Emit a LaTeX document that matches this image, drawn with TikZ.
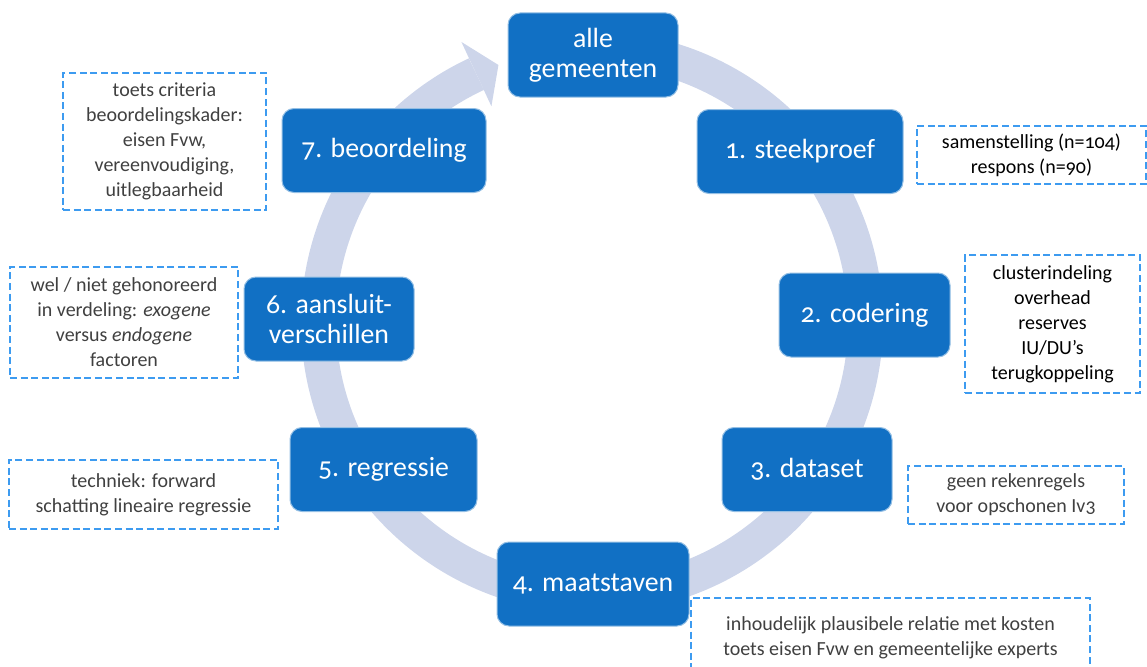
\documentclass[tikz,border=0pt]{standalone}
\usepackage{fontspec}
\setmainfont{Carlito}[Numbers=OldStyle]
\definecolor{stepblue}{HTML}{1170C4}
\definecolor{ringgrey}{HTML}{CDD5EA}
\definecolor{dashblue}{HTML}{3D9BF0}
\definecolor{notegrey}{HTML}{404040}

\begin{document}
\begin{tikzpicture}
	[   x=0.5pt,y=0.5pt,
	    stepnode/.style 2 args={draw=white!55!stepblue,line width=0.5pt,fill=stepblue,rounded corners=6pt,text=white,align=center,inner sep=0pt,minimum width=#1*0.5pt,minimum height=#2*0.5pt,font=\fontsize{13.9}{15}\selectfont},
	    notenode/.style 2 args={draw=dashblue,line width=1pt,dash pattern=on 3.5pt off 1.8pt,text=notegrey,align=center,inner sep=0pt,minimum width=#1*0.5pt,minimum height=#2*0.5pt,font=\fontsize{10}{12.5}\selectfont},
	]
	\tikzset{ring/.style={draw=ringgrey,line width=17.5pt}}
	\useasboundingbox (0,0) rectangle (1147,666);
	\clip (0,0) rectangle (1147,666);
	
	% cycle arrow
	\coordinate (c) at (592,344);
	\draw[ring] ([shift={(95:273.5)}]c) arc[start angle=95,end angle=-245,radius=273.5];
	\fill[ringgrey] ([shift={(115:309)}]c) -- ([shift={(110:273.5)}]c) -- ([shift={(115:238)}]c) -- cycle;
	
	\node[stepnode={170}{84}] (s-0) at (593,611) {alle\\gemeenten};
	
	\foreach \i/\x/\y/\w/\t in {1/800/514.5/206/{1. steekproef},
	                            2/864.5/351/171/{2. codering},
	                            3/807/196.5/170/{3. dataset},
	                            4/593/82/192/{4. maatstaven},
	                            5/383.5/196.5/187/{5. regressie},
	                            6/329/347/170/{6. aansluit-\\verschillen},
	                            7/384/515.5/204/{7. beoordeling}}
	{
		\node[stepnode={\w}{84}] (s-\i) at (\x,\y) {\t};
	}
	
	\node[notenode={229}{58},text=black] (n-1) at (1031.5,511) {samenstelling (n=104)\\respons (n=90)};
	\node[notenode={175}{138},text=black] (n-2) at (1052.5,342) {clusterindeling\\overhead\\reserves\\IU/DU’s\\terugkoppeling};
	\node[notenode={216}{58}] (n-3) at (1016,171) {geen rekenregels\\voor opschonen Iv3};
	\node[notenode={399}{80}] (n-4) at (890.5,28) {inhoudelijk plausibele relatie met kosten\\toets eisen Fvw en gemeentelijke experts};
	\node[notenode={269}{69}] (n-5) at (143.5,171.5) {techniek: forward\\schatting lineaire regressie};
	\node[notenode={228}{111}] (n-6) at (124,343.5) {wel / niet gehonoreerd\\in verdeling: \textit{exogene}\\versus \textit{endogene}\\factoren};
	\node[notenode={203}{137}] (n-7) at (164.5,524.5) {toets criteria\\beoordelingskader:\\eisen Fvw,\\vereenvoudiging,\\uitlegbaarheid};
\end{tikzpicture}
\end{document}
